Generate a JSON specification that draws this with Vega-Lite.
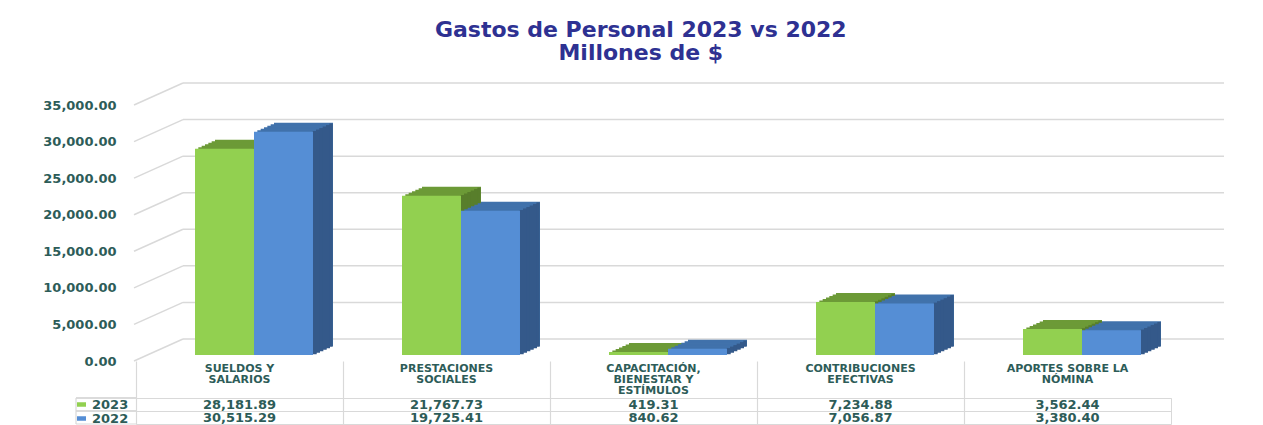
{
  "$schema": "https://vega.github.io/schema/vega-lite/v6.json",
  "background": "white",
  "padding": {"left": 42, "top": 19, "right": 5, "bottom": 0},
  "title": {
    "text": ["Gastos de Personal 2023 vs 2022", "Millones de $"],
    "font": "DejaVu Sans", "fontSize": 22, "fontWeight": "bold", "color": "#2E3192",
    "anchor": "middle", "dx": 7, "offset": -5, "lineHeight": 23, "baseline": "bottom"
  },
  "datasets": {
    "gastos": [
      {"categoria": "SUELDOS Y SALARIOS", "anio": "2023", "valor": 28181.89},
      {"categoria": "SUELDOS Y SALARIOS", "anio": "2022", "valor": 30515.29},
      {"categoria": "PRESTACIONES SOCIALES", "anio": "2023", "valor": 21767.73},
      {"categoria": "PRESTACIONES SOCIALES", "anio": "2022", "valor": 19725.41},
      {"categoria": "CAPACITACIÓN, BIENESTAR Y ESTÍMULOS", "anio": "2023", "valor": 419.31},
      {"categoria": "CAPACITACIÓN, BIENESTAR Y ESTÍMULOS", "anio": "2022", "valor": 840.62},
      {"categoria": "CONTRIBUCIONES EFECTIVAS", "anio": "2023", "valor": 7234.88},
      {"categoria": "CONTRIBUCIONES EFECTIVAS", "anio": "2022", "valor": 7056.87},
      {"categoria": "APORTES SOBRE LA NÓMINA", "anio": "2023", "valor": 3562.44},
      {"categoria": "APORTES SOBRE LA NÓMINA", "anio": "2022", "valor": 3380.40}
    ],
    "grid": [{"v": 0}, {"v": 5000}, {"v": 10000}, {"v": 15000}, {"v": 20000}, {"v": 25000}, {"v": 30000}, {"v": 35000}]
  },
  "bounds": "flush",
  "spacing": 43,
  "resolve": {"scale": {"color": "independent"}, "legend": {"color": "independent"}},
  "vconcat": [
    {
      "width": 1035,
      "height": 256,
      "data": {"name": "gastos"},
      "encoding": {
        "x": {
          "field": "categoria", "type": "nominal", "title": null,
          "scale": {"domain": ["SUELDOS Y SALARIOS", "PRESTACIONES SOCIALES", "CAPACITACIÓN, BIENESTAR Y ESTÍMULOS", "CONTRIBUCIONES EFECTIVAS", "APORTES SOBRE LA NÓMINA"], "paddingInner": 0, "paddingOuter": 0},
          "axis": {
            "orient": "bottom", "domain": false, "ticks": true, "bandPosition": 0, "tickSize": 37,
            "tickColor": "#D9D9D9", "tickWidth": 1.2, "offset": 6, "labelPadding": -36,
            "labelFont": "DejaVu Sans", "labelFontSize": 11, "labelFontWeight": "bold", "labelColor": "#2D5C58",
            "labelLineHeight": 11, "labelBaseline": "top", "labelAngle": 0, "labelLimit": 220,
            "labelExpr": "datum.value == 'SUELDOS Y SALARIOS' ? ['SUELDOS Y', 'SALARIOS'] : datum.value == 'PRESTACIONES SOCIALES' ? ['PRESTACIONES', 'SOCIALES'] : datum.value == 'CAPACITACIÓN, BIENESTAR Y ESTÍMULOS' ? ['CAPACITACIÓN,', 'BIENESTAR Y', 'ESTÍMULOS'] : datum.value == 'CONTRIBUCIONES EFECTIVAS' ? ['CONTRIBUCIONES', 'EFECTIVAS'] : ['APORTES SOBRE LA', 'NÓMINA']"
          }
        },
        "y": {
          "field": "valor", "type": "quantitative", "title": null,
          "scale": {"domain": [0, 35000], "nice": false, "zero": true},
          "axis": {
            "values": [0, 5000, 10000, 15000, 20000, 25000, 30000, 35000], "format": ",.2f",
            "grid": false, "domain": false, "ticks": false, "labelPadding": 20, "labelOffset": 6,
            "labelFont": "DejaVu Sans", "labelFontSize": 13, "labelFontWeight": "bold", "labelColor": "#2D5C58"
          }
        }
      },
      "layer": [
        {
          "data": {"name": "grid"},
          "mark": {"type": "rule", "color": "#D9D9D9", "strokeWidth": 1.5, "xOffset": 47, "x2Offset": 53, "yOffset": -16, "y2Offset": -16},
          "encoding": {
            "x": {"datum": "SUELDOS Y SALARIOS", "bandPosition": 0},
            "x2": {"datum": "APORTES SOBRE LA NÓMINA", "bandPosition": 1},
            "y": {"field": "v", "type": "quantitative", "title": null}
          }
        },
        {
          "data": {"name": "grid"},
          "mark": {"type": "rule", "color": "#D9D9D9", "strokeWidth": 1.5, "xOffset": -2, "x2Offset": 47, "yOffset": 6, "y2Offset": -16},
          "encoding": {
            "x": {"datum": "SUELDOS Y SALARIOS", "bandPosition": 0},
            "x2": {"datum": "SUELDOS Y SALARIOS", "bandPosition": 0},
            "y": {"field": "v", "type": "quantitative", "title": null},
            "y2": {"field": "v"}
          }
        },
        {
          "data": {"values": [{}]},
          "mark": {"type": "rule", "color": "#D9D9D9", "strokeWidth": 1.2, "yOffset": 6, "y2Offset": 43},
          "encoding": {
            "x": {"datum": "APORTES SOBRE LA NÓMINA", "bandPosition": 1},
            "y": {"datum": 0},
            "y2": {"datum": 0}
          }
        },
        {"transform": [{"filter": "datum.anio == '2023'"}], "mark": {"type": "bar", "color": "#6C9A37", "width": {"band": 0.285}, "xOffset": 5, "yOffset": -9, "y2Offset": -9}, "encoding": {"y2": {"datum": 0}}},
        {"transform": [{"filter": "datum.anio == '2023'"}], "mark": {"type": "bar", "color": "#6C9A37", "width": {"band": 0.285}, "xOffset": 1.667, "yOffset": -7.5, "y2Offset": -7.5}, "encoding": {"y2": {"datum": 0}}},
        {"transform": [{"filter": "datum.anio == '2023'"}], "mark": {"type": "bar", "color": "#6C9A37", "width": {"band": 0.285}, "xOffset": -1.667, "yOffset": -6, "y2Offset": -6}, "encoding": {"y2": {"datum": 0}}},
        {"transform": [{"filter": "datum.anio == '2023'"}], "mark": {"type": "bar", "color": "#6C9A37", "width": {"band": 0.285}, "xOffset": -5, "yOffset": -4.5, "y2Offset": -4.5}, "encoding": {"y2": {"datum": 0}}},
        {"transform": [{"filter": "datum.anio == '2023'"}], "mark": {"type": "bar", "color": "#6C9A37", "width": {"band": 0.285}, "xOffset": -8.333, "yOffset": -3, "y2Offset": -3}, "encoding": {"y2": {"datum": 0}}},
        {"transform": [{"filter": "datum.anio == '2023'"}], "mark": {"type": "bar", "color": "#6C9A37", "width": {"band": 0.285}, "xOffset": -11.667, "yOffset": -1.5, "y2Offset": -1.5}, "encoding": {"y2": {"datum": 0}}},
        {"transform": [{"filter": "datum.anio == '2023'"}], "mark": {"type": "bar", "color": "#587E2B", "width": 4, "xOffset": 16.167, "yOffset": -0.75, "y2Offset": -0.75}, "encoding": {"y2": {"datum": 0}}},
        {"transform": [{"filter": "datum.anio == '2023'"}], "mark": {"type": "bar", "color": "#587E2B", "width": 4, "xOffset": 19.5, "yOffset": -2.25, "y2Offset": -2.25}, "encoding": {"y2": {"datum": 0}}},
        {"transform": [{"filter": "datum.anio == '2023'"}], "mark": {"type": "bar", "color": "#587E2B", "width": 4, "xOffset": 22.833, "yOffset": -3.75, "y2Offset": -3.75}, "encoding": {"y2": {"datum": 0}}},
        {"transform": [{"filter": "datum.anio == '2023'"}], "mark": {"type": "bar", "color": "#587E2B", "width": 4, "xOffset": 26.167, "yOffset": -5.25, "y2Offset": -5.25}, "encoding": {"y2": {"datum": 0}}},
        {"transform": [{"filter": "datum.anio == '2023'"}], "mark": {"type": "bar", "color": "#587E2B", "width": 4, "xOffset": 29.5, "yOffset": -6.75, "y2Offset": -6.75}, "encoding": {"y2": {"datum": 0}}},
        {"transform": [{"filter": "datum.anio == '2023'"}], "mark": {"type": "bar", "color": "#587E2B", "width": 3.4, "xOffset": 32.533, "yOffset": -8.25, "y2Offset": -8.25}, "encoding": {"y2": {"datum": 0}}},
        {"transform": [{"filter": "datum.anio == '2023'"}], "mark": {"type": "bar", "color": "#92D050", "width": {"band": 0.285}, "xOffset": -15}, "encoding": {"y2": {"datum": 0}}},
        {"transform": [{"filter": "datum.anio == '2022'"}], "mark": {"type": "bar", "color": "#4172AB", "width": {"band": 0.285}, "xOffset": 64, "yOffset": -9, "y2Offset": -9}, "encoding": {"y2": {"datum": 0}}},
        {"transform": [{"filter": "datum.anio == '2022'"}], "mark": {"type": "bar", "color": "#4172AB", "width": {"band": 0.285}, "xOffset": 60.667, "yOffset": -7.5, "y2Offset": -7.5}, "encoding": {"y2": {"datum": 0}}},
        {"transform": [{"filter": "datum.anio == '2022'"}], "mark": {"type": "bar", "color": "#4172AB", "width": {"band": 0.285}, "xOffset": 57.333, "yOffset": -6, "y2Offset": -6}, "encoding": {"y2": {"datum": 0}}},
        {"transform": [{"filter": "datum.anio == '2022'"}], "mark": {"type": "bar", "color": "#4172AB", "width": {"band": 0.285}, "xOffset": 54, "yOffset": -4.5, "y2Offset": -4.5}, "encoding": {"y2": {"datum": 0}}},
        {"transform": [{"filter": "datum.anio == '2022'"}], "mark": {"type": "bar", "color": "#4172AB", "width": {"band": 0.285}, "xOffset": 50.667, "yOffset": -3, "y2Offset": -3}, "encoding": {"y2": {"datum": 0}}},
        {"transform": [{"filter": "datum.anio == '2022'"}], "mark": {"type": "bar", "color": "#4172AB", "width": {"band": 0.285}, "xOffset": 47.333, "yOffset": -1.5, "y2Offset": -1.5}, "encoding": {"y2": {"datum": 0}}},
        {"transform": [{"filter": "datum.anio == '2022'"}], "mark": {"type": "bar", "color": "#34598A", "width": 4, "xOffset": 75.167, "yOffset": -0.75, "y2Offset": -0.75}, "encoding": {"y2": {"datum": 0}}},
        {"transform": [{"filter": "datum.anio == '2022'"}], "mark": {"type": "bar", "color": "#34598A", "width": 4, "xOffset": 78.5, "yOffset": -2.25, "y2Offset": -2.25}, "encoding": {"y2": {"datum": 0}}},
        {"transform": [{"filter": "datum.anio == '2022'"}], "mark": {"type": "bar", "color": "#34598A", "width": 4, "xOffset": 81.833, "yOffset": -3.75, "y2Offset": -3.75}, "encoding": {"y2": {"datum": 0}}},
        {"transform": [{"filter": "datum.anio == '2022'"}], "mark": {"type": "bar", "color": "#34598A", "width": 4, "xOffset": 85.167, "yOffset": -5.25, "y2Offset": -5.25}, "encoding": {"y2": {"datum": 0}}},
        {"transform": [{"filter": "datum.anio == '2022'"}], "mark": {"type": "bar", "color": "#34598A", "width": 4, "xOffset": 88.5, "yOffset": -6.75, "y2Offset": -6.75}, "encoding": {"y2": {"datum": 0}}},
        {"transform": [{"filter": "datum.anio == '2022'"}], "mark": {"type": "bar", "color": "#34598A", "width": 3.4, "xOffset": 91.533, "yOffset": -8.25, "y2Offset": -8.25}, "encoding": {"y2": {"datum": 0}}},
        {"transform": [{"filter": "datum.anio == '2022'"}], "mark": {"type": "bar", "color": "#558ED5", "width": {"band": 0.285}, "xOffset": 44}, "encoding": {"y2": {"datum": 0}}}
      ]
    },
    {
      "width": 1035,
      "height": 26,
      "view": {"stroke": "#D9D9D9"},
      "data": {"name": "gastos"},
      "encoding": {
        "x": {
          "field": "categoria", "type": "nominal", "title": null,
          "scale": {"domain": ["SUELDOS Y SALARIOS", "PRESTACIONES SOCIALES", "CAPACITACIÓN, BIENESTAR Y ESTÍMULOS", "CONTRIBUCIONES EFECTIVAS", "APORTES SOBRE LA NÓMINA"], "paddingInner": 0, "paddingOuter": 0},
          "axis": {"grid": true, "bandPosition": 0, "gridColor": "#D9D9D9", "gridWidth": 1.2, "labels": false, "ticks": false, "domain": false}
        },
        "y": {
          "field": "anio", "type": "nominal", "title": null,
          "scale": {"domain": ["2023", "2022"], "paddingInner": 0, "paddingOuter": 0},
          "axis": {"grid": true, "bandPosition": 0, "gridColor": "#D9D9D9", "gridWidth": 1.2, "labels": false, "ticks": false, "domain": false}
        }
      },
      "layer": [
        {
          "mark": {"type": "rule", "color": "#D9D9D9", "strokeWidth": 1.2, "xOffset": -60},
          "encoding": {
            "x": {"datum": "SUELDOS Y SALARIOS", "bandPosition": 0},
            "x2": {"datum": "SUELDOS Y SALARIOS", "bandPosition": 0},
            "y": {"field": "anio", "type": "nominal", "bandPosition": 0, "title": null}
          }
        },
        {
          "data": {"values": [{}]},
          "mark": {"type": "rule", "color": "#D9D9D9", "strokeWidth": 1.2, "xOffset": -60},
          "encoding": {
            "x": {"datum": "SUELDOS Y SALARIOS", "bandPosition": 0},
            "x2": {"datum": "SUELDOS Y SALARIOS", "bandPosition": 0},
            "y": {"datum": "2022", "bandPosition": 1}
          }
        },
        {
          "data": {"values": [{}]},
          "mark": {"type": "rule", "color": "#D9D9D9", "strokeWidth": 1.2, "xOffset": -60, "x2Offset": -60},
          "encoding": {
            "x": {"datum": "SUELDOS Y SALARIOS", "bandPosition": 0},
            "y": {"datum": "2023", "bandPosition": 0},
            "y2": {"datum": "2022", "bandPosition": 1}
          }
        },
        {
          "mark": {"type": "point", "shape": "square", "filled": true, "size": 0},
          "encoding": {
            "color": {
              "field": "anio", "type": "nominal",
              "scale": {"domain": ["2023", "2022"], "range": ["#92D050", "#558ED5"]},
              "legend": {
                "title": null, "orient": "left", "offset": 7, "padding": 0, "rowPadding": 0,
                "labelFont": "DejaVu Sans", "labelFontSize": 13, "labelFontWeight": "bold", "labelColor": "#2D5C58",
                "labelOffset": 4, "symbolType": "M-1,-0.5H1V0.5H-1Z", "symbolSize": 81, "symbolStrokeWidth": 0, "symbolOpacity": 1
              }
            }
          }
        },
        {
          "mark": {"type": "text", "font": "DejaVu Sans", "fontSize": 13, "fontWeight": "bold", "color": "#2D5C58"},
          "encoding": {"text": {"field": "valor", "type": "quantitative", "format": ",.2f"}}
        }
      ]
    }
  ],
  "config": {"view": {"stroke": null}, "font": "DejaVu Sans"}
}
